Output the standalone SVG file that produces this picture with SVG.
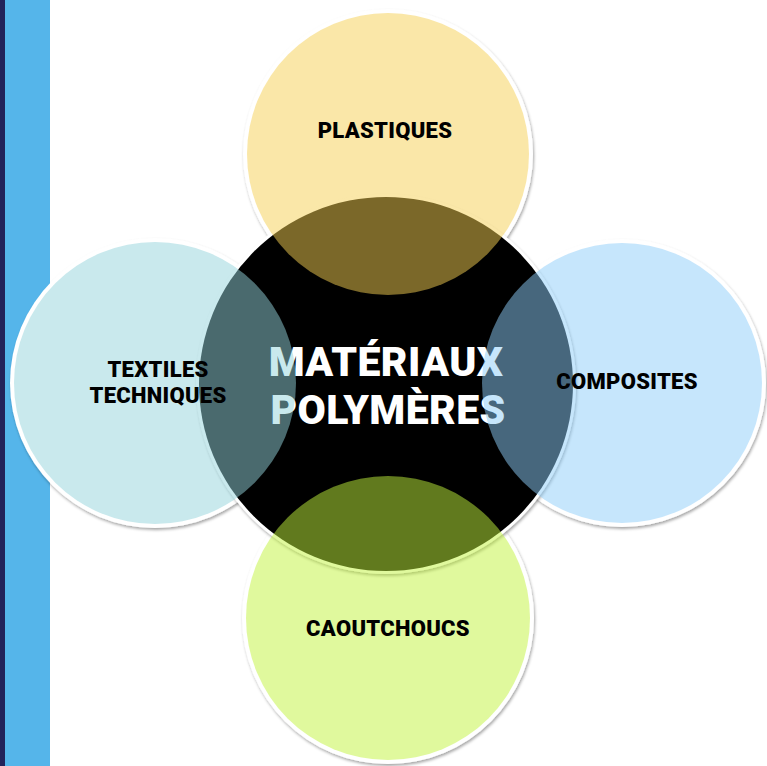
<svg xmlns="http://www.w3.org/2000/svg" width="767" height="766" viewBox="0 0 767 766">
  <defs>
    <filter id="sh" x="-10%" y="-10%" width="120%" height="120%">
      <feDropShadow dx="1" dy="2" stdDeviation="1.6" flood-color="#000" flood-opacity="0.35"/>
    </filter>
    <style>
      .base { fill: #ffffff; filter: url(#sh); }
      .fill { opacity: 0.5; }
      .lbl { font-family: Roboto, "Liberation Sans", sans-serif; font-weight: 900; font-size: 22px; letter-spacing: 0.3px; fill: #000; text-anchor: middle; }
      .title { font-family: Roboto, "Liberation Sans", sans-serif; font-weight: 900; font-size: 41px; letter-spacing: 0.4px; fill: #ffffff; text-anchor: middle; }
    </style>
  </defs>
  <rect x="0" y="0" width="767" height="766" fill="#ffffff"/>
  <rect x="0" y="0" width="5" height="766" fill="#22225a"/>
  <rect x="5" y="0" width="45" height="766" fill="#55b5ea"/>

  <g id="bases">
    <circle class="base" cx="388" cy="154" r="145"/>
    <circle class="base" cx="155" cy="383" r="145"/>
    <circle class="base" cx="622" cy="383" r="144"/>
    <circle class="base" cx="388" cy="618" r="146"/>
  </g>

  <g id="center">
    <circle class="base" cx="386" cy="384" r="190"/>
    <circle cx="386" cy="384" r="187" fill="#000000"/>
    <text class="title" x="386" y="376">MATÉRIAUX</text>
    <text class="title" x="388" y="424">POLYMÈRES</text>
  </g>

  <g id="plastiques">
    <circle class="fill" cx="388" cy="154" r="141" fill="#f6d052"/>
    <text class="lbl" x="385" y="138">PLASTIQUES</text>
  </g>
  <g id="textiles">
    <circle class="fill" cx="155" cy="383" r="141" fill="#94d4dc"/>
    <text class="lbl" x="158" y="377">TEXTILES</text>
    <text class="lbl" x="158" y="403">TECHNIQUES</text>
  </g>
  <g id="composites">
    <circle class="fill" cx="622" cy="383" r="140" fill="#8ecefa"/>
    <text class="lbl" x="627" y="389">COMPOSITES</text>
  </g>
  <g id="caoutchoucs">
    <circle class="fill" cx="388" cy="618" r="142" fill="#c2f43c"/>
    <text class="lbl" x="388" y="636">CAOUTCHOUCS</text>
  </g>
  <g id="connectors"/>
</svg>
